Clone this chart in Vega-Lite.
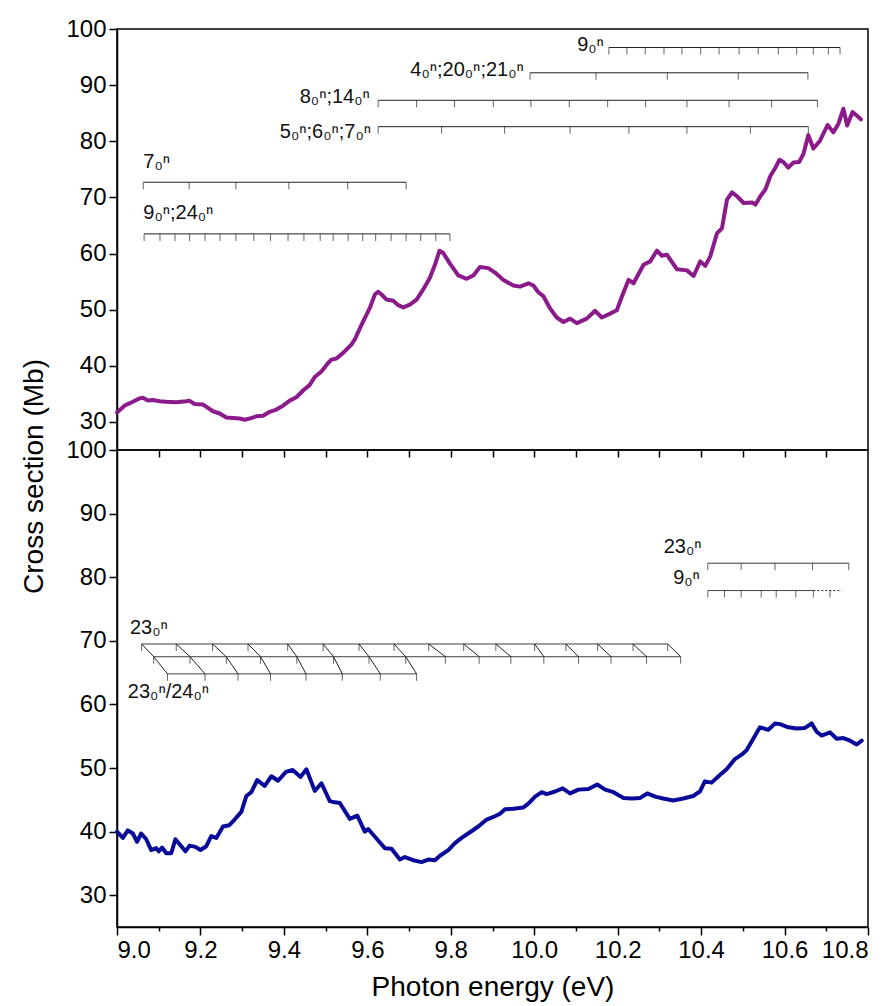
{
  "$schema": "https://vega.github.io/schema/vega-lite/v6.json",
  "background": "white",
  "padding": {"left": 19, "top": 16, "right": 5, "bottom": 5},
  "spacing": 0,
  "bounds": "flush",
  "config": {
    "view": {"stroke": "#000", "strokeWidth": 1.5},
    "axis": {"domainColor": "#000", "domainWidth": 1.5, "tickColor": "#000", "tickWidth": 1.5, "labelFont": "Liberation Sans", "labelFontSize": 24, "labelColor": "#000", "titleFont": "Liberation Sans", "titleFontSize": 28, "titleFontWeight": "normal", "titleColor": "#000", "grid": false, "labelPadding": 3},
    "text": {"font": "Liberation Sans", "fontSize": 20, "color": "#111", "baseline": "alphabetic"}
  },
  "datasets": {
    "curveTop": [
      {"e":9.000,"v":31.7},{"e":9.018,"v":32.9},{"e":9.038,"v":33.6},{"e":9.054,"v":34.2},{"e":9.062,"v":34.3},{"e":9.074,"v":33.8},{"e":9.086,"v":33.9},{"e":9.102,"v":33.7},{"e":9.118,"v":33.6},{"e":9.142,"v":33.5},{"e":9.166,"v":33.7},{"e":9.173,"v":33.8},{"e":9.186,"v":33.2},{"e":9.206,"v":33.1},{"e":9.218,"v":32.5},{"e":9.230,"v":31.9},{"e":9.246,"v":31.5},{"e":9.262,"v":30.8},{"e":9.278,"v":30.7},{"e":9.294,"v":30.6},{"e":9.306,"v":30.4},{"e":9.318,"v":30.6},{"e":9.334,"v":31.0},{"e":9.350,"v":31.1},{"e":9.366,"v":31.8},{"e":9.382,"v":32.2},{"e":9.398,"v":32.9},{"e":9.414,"v":33.8},{"e":9.430,"v":34.4},{"e":9.446,"v":35.6},{"e":9.462,"v":36.6},{"e":9.474,"v":38.0},{"e":9.490,"v":39.0},{"e":9.506,"v":40.5},{"e":9.514,"v":41.1},{"e":9.526,"v":41.3},{"e":9.542,"v":42.3},{"e":9.562,"v":43.8},{"e":9.570,"v":44.7},{"e":9.586,"v":47.3},{"e":9.606,"v":50.3},{"e":9.618,"v":52.7},{"e":9.626,"v":53.2},{"e":9.634,"v":52.7},{"e":9.646,"v":51.8},{"e":9.662,"v":51.6},{"e":9.674,"v":50.8},{"e":9.686,"v":50.4},{"e":9.702,"v":50.9},{"e":9.718,"v":51.8},{"e":9.734,"v":53.6},{"e":9.750,"v":55.7},{"e":9.762,"v":58.0},{"e":9.773,"v":60.5},{"e":9.782,"v":60.1},{"e":9.798,"v":58.2},{"e":9.818,"v":56.1},{"e":9.838,"v":55.5},{"e":9.854,"v":56.1},{"e":9.870,"v":57.6},{"e":9.890,"v":57.4},{"e":9.906,"v":56.6},{"e":9.926,"v":55.3},{"e":9.950,"v":54.3},{"e":9.966,"v":54.1},{"e":9.986,"v":54.7},{"e":9.998,"v":54.3},{"e":10.010,"v":53.1},{"e":10.022,"v":52.4},{"e":10.038,"v":50.2},{"e":10.054,"v":48.6},{"e":10.070,"v":47.8},{"e":10.086,"v":48.4},{"e":10.102,"v":47.6},{"e":10.126,"v":48.4},{"e":10.146,"v":49.8},{"e":10.162,"v":48.6},{"e":10.182,"v":49.3},{"e":10.198,"v":49.9},{"e":10.210,"v":52.3},{"e":10.226,"v":55.3},{"e":10.238,"v":54.7},{"e":10.262,"v":58.0},{"e":10.278,"v":58.6},{"e":10.294,"v":60.5},{"e":10.306,"v":59.6},{"e":10.318,"v":59.8},{"e":10.342,"v":57.2},{"e":10.366,"v":57.0},{"e":10.382,"v":56.0},{"e":10.398,"v":58.6},{"e":10.410,"v":57.8},{"e":10.422,"v":59.5},{"e":10.438,"v":63.6},{"e":10.450,"v":64.5},{"e":10.462,"v":69.6},{"e":10.474,"v":70.9},{"e":10.486,"v":70.2},{"e":10.502,"v":69.0},{"e":10.522,"v":69.1},{"e":10.530,"v":68.7},{"e":10.542,"v":70.2},{"e":10.554,"v":71.4},{"e":10.566,"v":73.8},{"e":10.578,"v":75.3},{"e":10.588,"v":76.7},{"e":10.597,"v":76.3},{"e":10.609,"v":75.3},{"e":10.621,"v":76.2},{"e":10.635,"v":76.3},{"e":10.645,"v":77.7},{"e":10.657,"v":81.1},{"e":10.669,"v":78.7},{"e":10.685,"v":80.1},{"e":10.703,"v":82.9},{"e":10.717,"v":81.6},{"e":10.729,"v":83.1},{"e":10.741,"v":85.8},{"e":10.750,"v":82.8},{"e":10.763,"v":85.2},{"e":10.773,"v":84.6},{"e":10.783,"v":83.9}
    ],
    "curveBot": [
      {"e":9.000,"v":40.0},{"e":9.014,"v":39.0},{"e":9.026,"v":40.2},{"e":9.038,"v":39.7},{"e":9.048,"v":38.4},{"e":9.058,"v":39.7},{"e":9.070,"v":38.8},{"e":9.082,"v":37.1},{"e":9.094,"v":37.4},{"e":9.100,"v":36.9},{"e":9.108,"v":37.5},{"e":9.118,"v":36.6},{"e":9.130,"v":36.6},{"e":9.140,"v":38.8},{"e":9.154,"v":37.7},{"e":9.164,"v":36.9},{"e":9.174,"v":37.8},{"e":9.188,"v":37.6},{"e":9.200,"v":37.1},{"e":9.214,"v":37.7},{"e":9.226,"v":39.3},{"e":9.238,"v":39.0},{"e":9.254,"v":40.8},{"e":9.269,"v":41.0},{"e":9.282,"v":41.9},{"e":9.298,"v":43.1},{"e":9.310,"v":45.6},{"e":9.322,"v":46.2},{"e":9.336,"v":48.1},{"e":9.354,"v":47.2},{"e":9.370,"v":48.7},{"e":9.386,"v":48.0},{"e":9.405,"v":49.4},{"e":9.421,"v":49.7},{"e":9.440,"v":48.6},{"e":9.454,"v":49.8},{"e":9.474,"v":46.4},{"e":9.490,"v":47.6},{"e":9.510,"v":44.8},{"e":9.522,"v":44.6},{"e":9.534,"v":44.5},{"e":9.558,"v":42.0},{"e":9.576,"v":42.5},{"e":9.594,"v":40.0},{"e":9.602,"v":40.4},{"e":9.626,"v":38.6},{"e":9.642,"v":37.4},{"e":9.658,"v":37.3},{"e":9.678,"v":35.6},{"e":9.690,"v":36.0},{"e":9.710,"v":35.5},{"e":9.730,"v":35.2},{"e":9.746,"v":35.6},{"e":9.762,"v":35.5},{"e":9.774,"v":36.2},{"e":9.794,"v":37.1},{"e":9.810,"v":38.2},{"e":9.826,"v":39.0},{"e":9.846,"v":39.9},{"e":9.866,"v":40.8},{"e":9.886,"v":41.9},{"e":9.902,"v":42.3},{"e":9.918,"v":42.8},{"e":9.930,"v":43.5},{"e":9.950,"v":43.6},{"e":9.974,"v":43.8},{"e":9.986,"v":44.4},{"e":10.002,"v":45.5},{"e":10.018,"v":46.2},{"e":10.030,"v":45.9},{"e":10.050,"v":46.3},{"e":10.068,"v":46.8},{"e":10.086,"v":46.0},{"e":10.106,"v":46.6},{"e":10.130,"v":46.7},{"e":10.151,"v":47.4},{"e":10.170,"v":46.6},{"e":10.190,"v":46.2},{"e":10.214,"v":45.3},{"e":10.234,"v":45.2},{"e":10.254,"v":45.3},{"e":10.271,"v":46.0},{"e":10.290,"v":45.5},{"e":10.309,"v":45.2},{"e":10.333,"v":44.9},{"e":10.357,"v":45.2},{"e":10.381,"v":45.6},{"e":10.397,"v":46.3},{"e":10.409,"v":47.9},{"e":10.425,"v":47.7},{"e":10.445,"v":48.9},{"e":10.461,"v":49.8},{"e":10.481,"v":51.4},{"e":10.497,"v":52.1},{"e":10.509,"v":52.8},{"e":10.525,"v":54.6},{"e":10.541,"v":56.4},{"e":10.561,"v":56.0},{"e":10.577,"v":57.0},{"e":10.589,"v":56.9},{"e":10.609,"v":56.4},{"e":10.629,"v":56.2},{"e":10.649,"v":56.3},{"e":10.665,"v":57.0},{"e":10.677,"v":55.7},{"e":10.689,"v":55.1},{"e":10.709,"v":55.6},{"e":10.725,"v":54.6},{"e":10.741,"v":54.7},{"e":10.757,"v":54.3},{"e":10.773,"v":53.7},{"e":10.785,"v":54.3}
    ],
    "lines": [
      {"p":"t","c":"a","s":9.065,"t":9.798,"v":63.5,"d":"solid"},
      {"p":"t","c":"b","s":9.063,"t":9.693,"v":72.7,"d":"solid"},
      {"p":"t","c":"c","s":9.626,"t":10.657,"v":82.6,"d":"solid"},
      {"p":"t","c":"d","s":9.626,"t":10.679,"v":87.3,"d":"solid"},
      {"p":"t","c":"e","s":9.990,"t":10.656,"v":92.2,"d":"solid"},
      {"p":"t","c":"f","s":10.179,"t":10.733,"v":96.7,"d":"solid"},
      {"p":"b","c":"g","s":10.416,"t":10.754,"v":82.2,"d":"solid"},
      {"p":"b","c":"h","s":10.416,"t":10.669,"v":77.9,"d":"solid"},
      {"p":"b","c":"h2","s":10.669,"t":10.737,"v":77.9,"d":"dot"},
      {"p":"b","c":"i","s":9.059,"t":10.320,"v":69.5,"d":"solid"},
      {"p":"b","c":"j","s":9.088,"t":10.351,"v":67.5,"d":"solid"},
      {"p":"b","c":"k","s":9.121,"t":9.718,"v":64.8,"d":"solid"}
    ],
    "ticks": [
      {"p":"t","c":"a","e":9.065,"v":63.5},{"p":"t","c":"a","e":9.103,"v":63.5},{"p":"t","c":"a","e":9.139,"v":63.5},{"p":"t","c":"a","e":9.174,"v":63.5},{"p":"t","c":"a","e":9.211,"v":63.5},{"p":"t","c":"a","e":9.247,"v":63.5},{"p":"t","c":"a","e":9.285,"v":63.5},{"p":"t","c":"a","e":9.328,"v":63.5},{"p":"t","c":"a","e":9.368,"v":63.5},{"p":"t","c":"a","e":9.410,"v":63.5},{"p":"t","c":"a","e":9.448,"v":63.5},{"p":"t","c":"a","e":9.487,"v":63.5},{"p":"t","c":"a","e":9.518,"v":63.5},{"p":"t","c":"a","e":9.554,"v":63.5},{"p":"t","c":"a","e":9.589,"v":63.5},{"p":"t","c":"a","e":9.620,"v":63.5},{"p":"t","c":"a","e":9.657,"v":63.5},{"p":"t","c":"a","e":9.693,"v":63.5},{"p":"t","c":"a","e":9.728,"v":63.5},{"p":"t","c":"a","e":9.764,"v":63.5},{"p":"t","c":"a","e":9.798,"v":63.5},
      {"p":"t","c":"b","e":9.063,"v":72.7},{"p":"t","c":"b","e":9.173,"v":72.7},{"p":"t","c":"b","e":9.285,"v":72.7},{"p":"t","c":"b","e":9.412,"v":72.7},{"p":"t","c":"b","e":9.553,"v":72.7},{"p":"t","c":"b","e":9.693,"v":72.7},
      {"p":"t","c":"c","e":9.626,"v":82.6},{"p":"t","c":"c","e":9.778,"v":82.6},{"p":"t","c":"c","e":9.929,"v":82.6},{"p":"t","c":"c","e":10.086,"v":82.6},{"p":"t","c":"c","e":10.227,"v":82.6},{"p":"t","c":"c","e":10.366,"v":82.6},{"p":"t","c":"c","e":10.518,"v":82.6},{"p":"t","c":"c","e":10.657,"v":82.6},
      {"p":"t","c":"d","e":9.626,"v":87.3},{"p":"t","c":"d","e":9.718,"v":87.3},{"p":"t","c":"d","e":9.809,"v":87.3},{"p":"t","c":"d","e":9.902,"v":87.3},{"p":"t","c":"d","e":9.992,"v":87.3},{"p":"t","c":"d","e":10.084,"v":87.3},{"p":"t","c":"d","e":10.176,"v":87.3},{"p":"t","c":"d","e":10.267,"v":87.3},{"p":"t","c":"d","e":10.366,"v":87.3},{"p":"t","c":"d","e":10.467,"v":87.3},{"p":"t","c":"d","e":10.569,"v":87.3},{"p":"t","c":"d","e":10.679,"v":87.3},
      {"p":"t","c":"e","e":9.990,"v":92.2},{"p":"t","c":"e","e":10.148,"v":92.2},{"p":"t","c":"e","e":10.319,"v":92.2},{"p":"t","c":"e","e":10.489,"v":92.2},{"p":"t","c":"e","e":10.656,"v":92.2},
      {"p":"t","c":"f","e":10.179,"v":96.7},{"p":"t","c":"f","e":10.222,"v":96.7},{"p":"t","c":"f","e":10.266,"v":96.7},{"p":"t","c":"f","e":10.311,"v":96.7},{"p":"t","c":"f","e":10.354,"v":96.7},{"p":"t","c":"f","e":10.399,"v":96.7},{"p":"t","c":"f","e":10.443,"v":96.7},{"p":"t","c":"f","e":10.491,"v":96.7},{"p":"t","c":"f","e":10.537,"v":96.7},{"p":"t","c":"f","e":10.585,"v":96.7},{"p":"t","c":"f","e":10.629,"v":96.7},{"p":"t","c":"f","e":10.669,"v":96.7},{"p":"t","c":"f","e":10.705,"v":96.7},{"p":"t","c":"f","e":10.733,"v":96.7},
      {"p":"b","c":"g","e":10.416,"v":82.2},{"p":"b","c":"g","e":10.496,"v":82.2},{"p":"b","c":"g","e":10.577,"v":82.2},{"p":"b","c":"g","e":10.667,"v":82.2},{"p":"b","c":"g","e":10.754,"v":82.2},
      {"p":"b","c":"h","e":10.416,"v":77.9},{"p":"b","c":"h","e":10.456,"v":77.9},{"p":"b","c":"h","e":10.496,"v":77.9},{"p":"b","c":"h","e":10.544,"v":77.9},{"p":"b","c":"h","e":10.580,"v":77.9},{"p":"b","c":"h","e":10.627,"v":77.9},{"p":"b","c":"h","e":10.669,"v":77.9},{"p":"b","c":"h","e":10.709,"v":77.9},
      {"p":"b","c":"i","e":9.059,"v":69.5},{"p":"b","c":"i","e":9.142,"v":69.5},{"p":"b","c":"i","e":9.229,"v":69.5},{"p":"b","c":"i","e":9.314,"v":69.5},{"p":"b","c":"i","e":9.409,"v":69.5},{"p":"b","c":"i","e":9.494,"v":69.5},{"p":"b","c":"i","e":9.580,"v":69.5},{"p":"b","c":"i","e":9.664,"v":69.5},{"p":"b","c":"i","e":9.747,"v":69.5},{"p":"b","c":"i","e":9.831,"v":69.5},{"p":"b","c":"i","e":9.908,"v":69.5},{"p":"b","c":"i","e":10.001,"v":69.5},{"p":"b","c":"i","e":10.076,"v":69.5},{"p":"b","c":"i","e":10.152,"v":69.5},{"p":"b","c":"i","e":10.237,"v":69.5},{"p":"b","c":"i","e":10.320,"v":69.5},
      {"p":"b","c":"j","e":9.088,"v":67.5},{"p":"b","c":"j","e":9.175,"v":67.5},{"p":"b","c":"j","e":9.262,"v":67.5},{"p":"b","c":"j","e":9.344,"v":67.5},{"p":"b","c":"j","e":9.431,"v":67.5},{"p":"b","c":"j","e":9.519,"v":67.5},{"p":"b","c":"j","e":9.604,"v":67.5},{"p":"b","c":"j","e":9.692,"v":67.5},{"p":"b","c":"j","e":9.787,"v":67.5},{"p":"b","c":"j","e":9.868,"v":67.5},{"p":"b","c":"j","e":9.944,"v":67.5},{"p":"b","c":"j","e":10.023,"v":67.5},{"p":"b","c":"j","e":10.106,"v":67.5},{"p":"b","c":"j","e":10.184,"v":67.5},{"p":"b","c":"j","e":10.269,"v":67.5},{"p":"b","c":"j","e":10.351,"v":67.5},
      {"p":"b","c":"k","e":9.121,"v":64.8},{"p":"b","c":"k","e":9.211,"v":64.8},{"p":"b","c":"k","e":9.290,"v":64.8},{"p":"b","c":"k","e":9.368,"v":64.8},{"p":"b","c":"k","e":9.453,"v":64.8},{"p":"b","c":"k","e":9.540,"v":64.8},{"p":"b","c":"k","e":9.631,"v":64.8},{"p":"b","c":"k","e":9.718,"v":64.8}
    ],
    "diag": [
      {"x1":9.059,"y1":69.5,"x2":9.088,"y2":67.5},{"x1":9.142,"y1":69.5,"x2":9.175,"y2":67.5},{"x1":9.229,"y1":69.5,"x2":9.262,"y2":67.5},{"x1":9.314,"y1":69.5,"x2":9.344,"y2":67.5},{"x1":9.409,"y1":69.5,"x2":9.431,"y2":67.5},{"x1":9.494,"y1":69.5,"x2":9.519,"y2":67.5},{"x1":9.580,"y1":69.5,"x2":9.604,"y2":67.5},{"x1":9.664,"y1":69.5,"x2":9.692,"y2":67.5},{"x1":9.747,"y1":69.5,"x2":9.787,"y2":67.5},{"x1":9.831,"y1":69.5,"x2":9.868,"y2":67.5},{"x1":9.908,"y1":69.5,"x2":9.944,"y2":67.5},{"x1":10.001,"y1":69.5,"x2":10.023,"y2":67.5},{"x1":10.076,"y1":69.5,"x2":10.106,"y2":67.5},{"x1":10.152,"y1":69.5,"x2":10.184,"y2":67.5},{"x1":10.237,"y1":69.5,"x2":10.269,"y2":67.5},{"x1":10.320,"y1":69.5,"x2":10.351,"y2":67.5},
      {"x1":9.088,"y1":67.5,"x2":9.121,"y2":64.8},{"x1":9.175,"y1":67.5,"x2":9.211,"y2":64.8},{"x1":9.262,"y1":67.5,"x2":9.290,"y2":64.8},{"x1":9.344,"y1":67.5,"x2":9.368,"y2":64.8},{"x1":9.431,"y1":67.5,"x2":9.453,"y2":64.8},{"x1":9.519,"y1":67.5,"x2":9.540,"y2":64.8},{"x1":9.604,"y1":67.5,"x2":9.631,"y2":64.8},{"x1":9.692,"y1":67.5,"x2":9.718,"y2":64.8}
    ],
    "labels": [
      {"p":"t","txt":"9₀ⁿ","e":10.167,"v":96.1,"a":"right"},
      {"p":"t","txt":"4₀ⁿ;20₀ⁿ;21₀ⁿ","e":9.975,"v":91.6,"a":"right"},
      {"p":"t","txt":"8₀ⁿ;14₀ⁿ","e":9.606,"v":86.8,"a":"right"},
      {"p":"t","txt":"5₀ⁿ;6₀ⁿ;7₀ⁿ","e":9.609,"v":80.5,"a":"right"},
      {"p":"t","txt":"7₀ⁿ","e":9.063,"v":75.2,"a":"left"},
      {"p":"t","txt":"9₀ⁿ;24₀ⁿ","e":9.063,"v":66.1,"a":"left"},
      {"p":"b","txt":"23₀ⁿ","e":10.401,"v":83.85,"a":"right"},
      {"p":"b","txt":"9₀ⁿ","e":10.397,"v":78.9,"a":"right"},
      {"p":"b","txt":"23₀ⁿ","e":9.031,"v":71.1,"a":"left"},
      {"p":"b","txt":"23₀ⁿ/24₀ⁿ","e":9.026,"v":61.0,"a":"left"}
    ]
  },
  "vconcat": [
    {
      "width": 751,
      "height": 421,
      "layer": [
        {
          "data": {"name": "curveTop"},
          "mark": {"type": "line", "color": "#8B1A8B", "strokeWidth": 4, "strokeJoin": "round", "strokeCap": "round"},
          "encoding": {
            "x": {"field": "e", "type": "quantitative", "scale": {"domain": [9, 10.8], "nice": false, "zero": false}, "axis": null},
            "y": {"field": "v", "type": "quantitative", "scale": {"domain": [25, 100], "nice": false, "zero": false},
              "axis": {"values": [30,35,40,45,50,55,60,65,70,75,80,85,90,95,100],
                "labelExpr": "datum.value % 10 === 0 ? datum.label : ''",
                "tickSize": {"condition": {"test": "datum.value % 10 === 0", "value": 8}, "value": 4},
                "title": "Cross section (Mb)", "titleX": -83, "titleY": 447, "titleAlign": "center", "titleBaseline": "middle"}}
          }
        },
        {
          "data": {"name": "lines"},
          "transform": [{"filter": "datum.p === 't'"}],
          "mark": {"type": "rule", "color": "#222", "strokeWidth": 1},
          "encoding": {
            "x": {"field": "s", "type": "quantitative", "axis": null},
            "x2": {"field": "t"},
            "y": {"field": "v", "type": "quantitative"}
          }
        },
        {
          "data": {"name": "ticks"},
          "transform": [{"filter": "datum.p === 't'"}],
          "mark": {"type": "tick", "orient": "vertical", "color": "#222", "thickness": 1, "size": 7, "yOffset": 3.5},
          "encoding": {
            "x": {"field": "e", "type": "quantitative", "axis": null},
            "y": {"field": "v", "type": "quantitative"}
          }
        },
        {
          "data": {"name": "labels"},
          "transform": [{"filter": "datum.p === 't' && datum.a === 'right'"}],
          "mark": {"type": "text", "align": "right"},
          "encoding": {
            "x": {"field": "e", "type": "quantitative", "axis": null},
            "y": {"field": "v", "type": "quantitative"},
            "text": {"field": "txt"}
          }
        },
        {
          "data": {"name": "labels"},
          "transform": [{"filter": "datum.p === 't' && datum.a === 'left'"}],
          "mark": {"type": "text", "align": "left"},
          "encoding": {
            "x": {"field": "e", "type": "quantitative", "axis": null},
            "y": {"field": "v", "type": "quantitative"},
            "text": {"field": "txt"}
          }
        }
      ]
    },
    {
      "width": 751,
      "height": 477,
      "resolve": {"axis": {"x": "independent"}},
      "layer": [
        {
          "data": {"name": "curveBot"},
          "mark": {"type": "line", "color": "#0A0A9A", "strokeWidth": 4, "strokeJoin": "round", "strokeCap": "round"},
          "encoding": {
            "x": {"field": "e", "type": "quantitative", "scale": {"domain": [9, 10.8], "nice": false, "zero": false},
              "axis": {"orient": "bottom", "values": [9,9.1,9.2,9.3,9.4,9.5,9.6,9.7,9.8,9.9,10,10.1,10.2,10.3,10.4,10.5,10.6,10.7,10.8],
                "labelExpr": "round(datum.value*10) % 2 === 0 ? format(datum.value, '.1f') : ''",
                "tickSize": {"condition": {"test": "round(datum.value*10) % 2 === 0", "value": 8}, "value": 4},
                "labelPadding": 3,
                "title": "Photon energy (eV)", "titlePadding": 11}},
            "y": {"field": "v", "type": "quantitative", "scale": {"domain": [25, 100], "nice": false, "zero": false},
              "axis": {"values": [30,35,40,45,50,55,60,65,70,75,80,85,90,95,100],
                "labelExpr": "datum.value % 10 === 0 ? datum.label : ''",
                "tickSize": {"condition": {"test": "datum.value % 10 === 0", "value": 8}, "value": 4},
                "title": null}}
          }
        },
        {
          "data": {"name": "lines"},
          "mark": {"type": "rule", "opacity": 0},
          "encoding": {
            "x": {"field": "s", "type": "quantitative",
              "axis": {"orient": "top", "values": [9.1,9.2,9.3,9.4,9.5,9.6,9.7,9.8,9.9,10,10.1,10.2,10.3,10.4,10.5,10.6,10.7], "labels": false, "domain": false, "tickSize": -7, "title": null}}
          }
        },
        {
          "data": {"name": "lines"},
          "transform": [{"filter": "datum.p === 'b'"}],
          "mark": {"type": "rule", "color": "#222", "strokeWidth": 1},
          "encoding": {
            "x": {"field": "s", "type": "quantitative", "axis": null},
            "x2": {"field": "t"},
            "y": {"field": "v", "type": "quantitative"},
            "strokeDash": {"field": "d", "type": "nominal", "scale": {"domain": ["solid", "dot"], "range": [[1, 0], [2, 2]]}, "legend": null}
          }
        },
        {
          "data": {"name": "diag"},
          "mark": {"type": "rule", "color": "#222", "strokeWidth": 1},
          "encoding": {
            "x": {"field": "x1", "type": "quantitative", "axis": null},
            "x2": {"field": "x2"},
            "y": {"field": "y1", "type": "quantitative"},
            "y2": {"field": "y2"}
          }
        },
        {
          "data": {"name": "ticks"},
          "transform": [{"filter": "datum.p === 'b'"}],
          "mark": {"type": "tick", "orient": "vertical", "color": "#222", "thickness": 1, "size": 7, "yOffset": 3.5},
          "encoding": {
            "x": {"field": "e", "type": "quantitative", "axis": null},
            "y": {"field": "v", "type": "quantitative"}
          }
        },
        {
          "data": {"name": "labels"},
          "transform": [{"filter": "datum.p === 'b' && datum.a === 'right'"}],
          "mark": {"type": "text", "align": "right"},
          "encoding": {
            "x": {"field": "e", "type": "quantitative", "axis": null},
            "y": {"field": "v", "type": "quantitative"},
            "text": {"field": "txt"}
          }
        },
        {
          "data": {"name": "labels"},
          "transform": [{"filter": "datum.p === 'b' && datum.a === 'left'"}],
          "mark": {"type": "text", "align": "left"},
          "encoding": {
            "x": {"field": "e", "type": "quantitative", "axis": null},
            "y": {"field": "v", "type": "quantitative"},
            "text": {"field": "txt"}
          }
        }
      ]
    }
  ]
}
